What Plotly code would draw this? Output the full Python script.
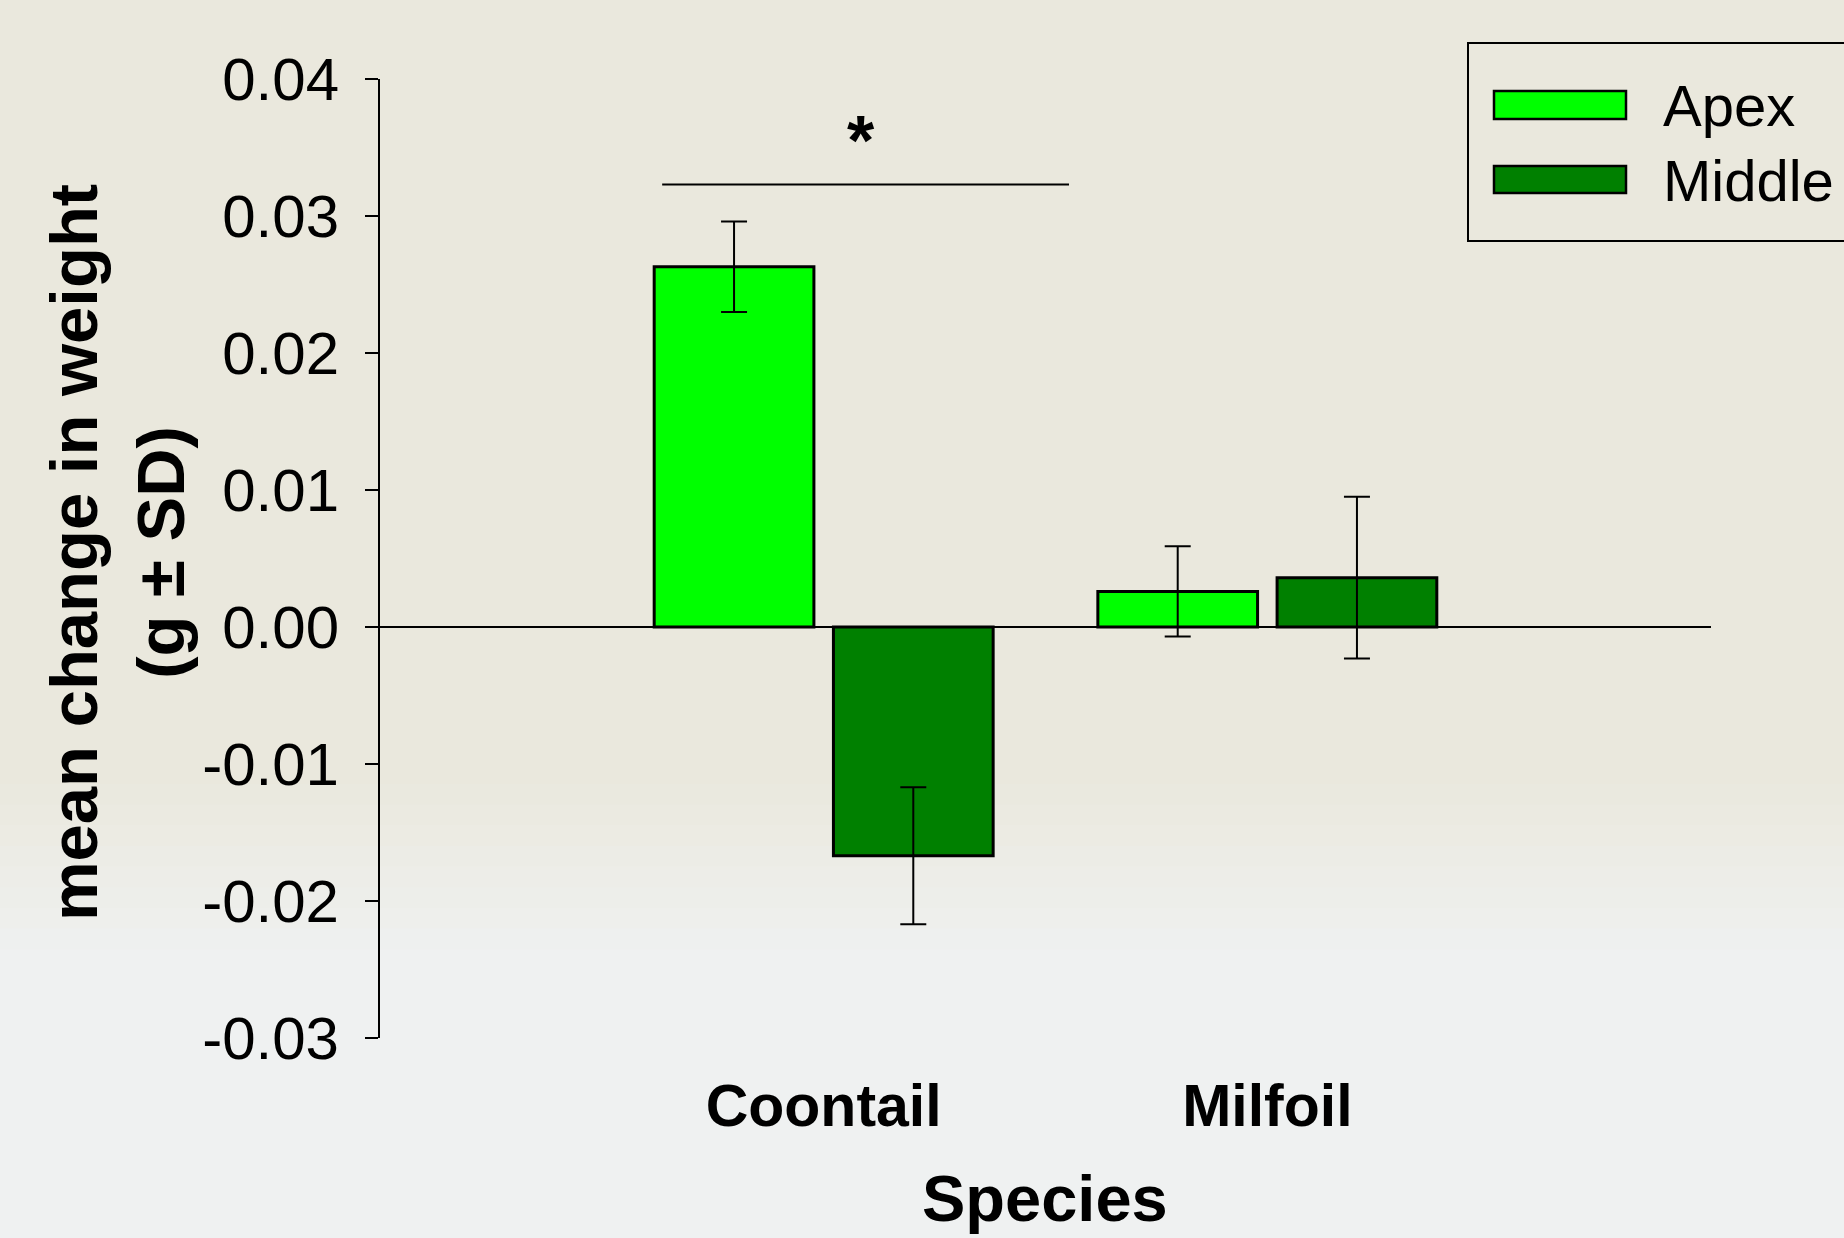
import plotly.graph_objects as go

# ---- data ----
species = ["Coontail", "Milfoil"]
apex_mean = [0.0263, 0.0026]
apex_sd = [0.0033, 0.0033]
middle_mean = [-0.0167, 0.0036]
middle_sd = [0.0050, 0.0059]
series_names = ["Apex", "Middle"]
ytick_vals = [-0.03, -0.02, -0.01, 0.0, 0.01, 0.02, 0.03, 0.04]
ytick_text = ["-0.03", "-0.02", "-0.01", "0.00", "0.01", "0.02", "0.03", "0.04"]

W, H = 1844, 1238
ML, MR, MT, MB = 380, 133, 79, 200
PW, PH = W - ML - MR, H - MT - MB

def px(x):
    return (x - ML) / PW

def py(y):
    return (H - MB - y) / PH

FONT = "Liberation Sans, Arial, sans-serif"
APEX_C = "#00ff00"
MID_C = "#008000"

fig = go.Figure()
fig.add_trace(go.Bar(
    x=species, y=apex_mean, name=series_names[0],
    width=0.36, offset=-0.382,
    marker=dict(color=APEX_C, line=dict(color="black", width=3)),
    error_y=dict(type="data", array=apex_sd, visible=True, color="black", thickness=2, width=13),
))
fig.add_trace(go.Bar(
    x=species, y=middle_mean, name=series_names[1],
    width=0.36, offset=0.022,
    marker=dict(color=MID_C, line=dict(color="black", width=3)),
    error_y=dict(type="data", array=middle_sd, visible=True, color="black", thickness=2, width=13),
))

# background (photo-like beige fading to pale grey near the bottom)
shapes = []
nb = 60
top = (234, 232, 221)
bot = (239, 241, 241)
for i in range(nb):
    y0 = i * H / nb
    y1 = (i + 1) * H / nb + 1
    yc = (y0 + y1) / 2
    t = min(max((yc - 780) / 180, 0), 1)
    c = tuple(int(round(top[k] + (bot[k] - top[k]) * t)) for k in range(3))
    shapes.append(dict(type="rect", xref="paper", yref="paper",
                       x0=px(-5), x1=px(W + 5), y0=py(y1), y1=py(y0),
                       fillcolor="rgb(%d,%d,%d)" % c, line=dict(width=0), layer="below"))

# significance bar
shapes.append(dict(type="line", xref="x", yref="y", x0=-0.364, x1=0.553, y0=0.0323, y1=0.0323,
                   line=dict(color="black", width=1.8)))

# legend box and swatches
shapes.append(dict(type="rect", xref="paper", yref="paper",
                   x0=px(1468), x1=px(1852), y0=py(241), y1=py(43),
                   line=dict(color="black", width=2), fillcolor="rgba(0,0,0,0)"))
shapes.append(dict(type="rect", xref="paper", yref="paper",
                   x0=px(1494), x1=px(1626), y0=py(119), y1=py(91),
                   line=dict(color="black", width=2.5), fillcolor=APEX_C))
shapes.append(dict(type="rect", xref="paper", yref="paper",
                   x0=px(1494), x1=px(1626), y0=py(193), y1=py(166),
                   line=dict(color="black", width=2.5), fillcolor=MID_C))

annotations = [
    dict(text="<b>*</b>", x=0.085, y=0.0355, xref="x", yref="y", showarrow=False,
         font=dict(family=FONT, size=70, color="black"), xanchor="center", yanchor="middle"),
    dict(text=series_names[0], x=px(1661), y=py(106), xref="paper", yref="paper", showarrow=False,
         font=dict(family=FONT, size=58, color="black"), xanchor="left", yanchor="middle"),
    dict(text=series_names[1], x=px(1661), y=py(180), xref="paper", yref="paper", showarrow=False,
         font=dict(family=FONT, size=58, color="black"), xanchor="left", yanchor="middle"),
    dict(text="<b>mean change in weight<br>(g ± SD)</b>", x=px(117), y=py(553), xref="paper", yref="paper",
         showarrow=False, textangle=-90, font=dict(family=FONT, size=67, color="black"),
         xanchor="center", yanchor="middle"),
    dict(text="<b>Species</b>", x=px(1045), y=py(1198), xref="paper", yref="paper", showarrow=False,
         font=dict(family=FONT, size=65, color="black"), xanchor="center", yanchor="middle"),
]

fig.update_layout(
    width=W, height=H,
    margin=dict(l=ML, r=MR, t=MT, b=MB, autoexpand=False),
    paper_bgcolor="rgb(234,232,221)",
    plot_bgcolor="rgba(0,0,0,0)",
    showlegend=False,
    barmode="overlay",
    shapes=shapes,
    annotations=annotations,
    font=dict(family=FONT, color="black"),
)
fig.update_xaxes(
    type="category", range=[-1, 2], showgrid=False, zeroline=False, showline=False,
    ticks="", tickfont=dict(family=FONT, size=59, color="black"),
    tickvals=species, ticktext=["<b>%s</b>" % s for s in species],
    ticklabelstandoff=28,
)
fig.update_yaxes(
    range=[-0.03, 0.04], showgrid=False, zeroline=True, zerolinecolor="black", zerolinewidth=2,
    showline=True, linecolor="black", linewidth=2, ticks="outside", ticklen=13, tickwidth=2,
    tickcolor="black", tickvals=ytick_vals, ticktext=ytick_text,
    tickfont=dict(family=FONT, size=60, color="black"), ticklabelstandoff=14,
)

fig.write_html("out.html", config={"displayModeBar": False})

# remove the default page margin so the figure fills the window exactly
with open("out.html", "r", encoding="utf-8") as f:
    html = f.read()
html = html.replace("<head>", "<head><style>html,body{margin:0;padding:0;overflow:hidden;}</style>", 1)
with open("out.html", "w", encoding="utf-8") as f:
    f.write(html)
